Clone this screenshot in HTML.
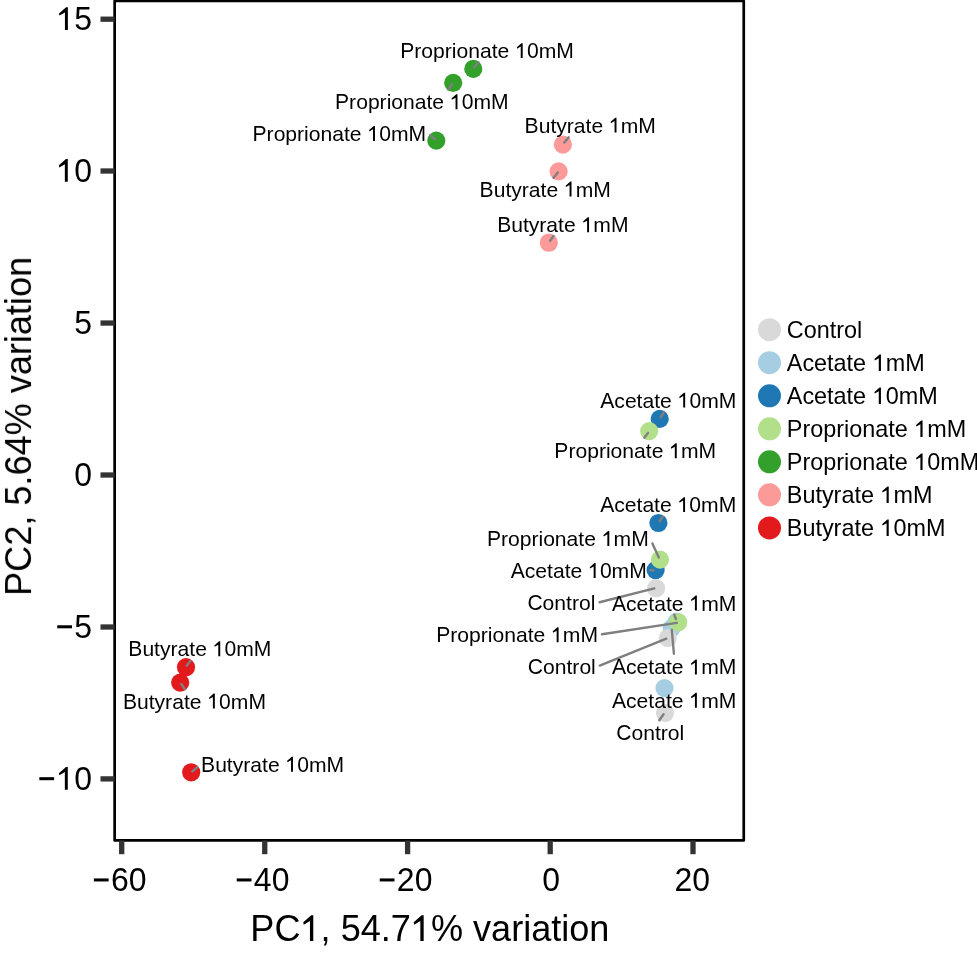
<!DOCTYPE html><html><head><meta charset="utf-8"><style>html,body{margin:0;padding:0;background:#fff;overflow:hidden;}svg{display:block;will-change:transform;}text{font-family:"Liberation Sans",sans-serif;font-kerning:none;fill:#000;}</style></head><body>
<svg width="977" height="953" viewBox="0 0 977 953">
<rect x="114.65" y="1.0" width="629.10" height="839.45" fill="#fff" stroke="#000" stroke-width="2.7" stroke-linejoin="round"/>
<circle cx="659.7" cy="418.9" r="9.1" fill="#1F78B4"/>
<circle cx="658.4" cy="523.0" r="9.1" fill="#1F78B4"/>
<circle cx="655.6" cy="570.1" r="9.1" fill="#1F78B4"/>
<circle cx="676.8" cy="621.5" r="9.1" fill="#A6CEE3"/>
<circle cx="671.7" cy="628.1" r="9.1" fill="#A6CEE3"/>
<circle cx="664.5" cy="688.1" r="9.1" fill="#A6CEE3"/>
<circle cx="186.0" cy="667.2" r="9.1" fill="#E31A1C"/>
<circle cx="180.2" cy="682.6" r="9.1" fill="#E31A1C"/>
<circle cx="191.2" cy="772.3" r="9.1" fill="#E31A1C"/>
<circle cx="562.9" cy="144.6" r="9.1" fill="#FB9A99"/>
<circle cx="558.6" cy="171.4" r="9.1" fill="#FB9A99"/>
<circle cx="548.8" cy="242.7" r="9.1" fill="#FB9A99"/>
<circle cx="656.1" cy="588.2" r="9.1" fill="#D9D9D9"/>
<circle cx="667.8" cy="638.0" r="9.1" fill="#D9D9D9"/>
<circle cx="665.0" cy="713.0" r="9.1" fill="#D9D9D9"/>
<circle cx="473.3" cy="68.9" r="9.1" fill="#33A02C"/>
<circle cx="453.2" cy="82.85" r="9.1" fill="#33A02C"/>
<circle cx="436.3" cy="140.6" r="9.1" fill="#33A02C"/>
<circle cx="649.2" cy="431.1" r="9.1" fill="#B2DF8A"/>
<circle cx="660.0" cy="559.6" r="9.1" fill="#B2DF8A"/>
<circle cx="678.2" cy="622.3" r="9.1" fill="#B2DF8A"/>
<line x1="474.32" y1="67.59" x2="478.21" y2="62.21" stroke="#7F7F7F" stroke-width="2.4" stroke-linecap="round"/>
<line x1="452.08" y1="84.26" x2="448.20" y2="89.50" stroke="#7F7F7F" stroke-width="2.4" stroke-linecap="round"/>
<line x1="435.05" y1="139.17" x2="430.27" y2="135.24" stroke="#7F7F7F" stroke-width="2.4" stroke-linecap="round"/>
<line x1="564.33" y1="142.60" x2="568.66" y2="137.37" stroke="#7F7F7F" stroke-width="2.4" stroke-linecap="round"/>
<line x1="557.87" y1="172.55" x2="553.54" y2="177.83" stroke="#7F7F7F" stroke-width="2.4" stroke-linecap="round"/>
<line x1="550.12" y1="240.74" x2="553.52" y2="236.01" stroke="#7F7F7F" stroke-width="2.4" stroke-linecap="round"/>
<line x1="660.71" y1="417.23" x2="664.05" y2="412.14" stroke="#7F7F7F" stroke-width="2.4" stroke-linecap="round"/>
<line x1="648.08" y1="432.86" x2="644.40" y2="437.80" stroke="#7F7F7F" stroke-width="2.4" stroke-linecap="round"/>
<line x1="659.71" y1="521.23" x2="662.65" y2="516.74" stroke="#7F7F7F" stroke-width="2.4" stroke-linecap="round"/>
<line x1="658.82" y1="557.42" x2="652.42" y2="543.41" stroke="#7F7F7F" stroke-width="2.4" stroke-linecap="round"/>
<line x1="653.50" y1="570.20" x2="650.60" y2="570.20" stroke="#7F7F7F" stroke-width="2.4" stroke-linecap="round"/>
<line x1="654.31" y1="588.45" x2="599.57" y2="602.26" stroke="#7F7F7F" stroke-width="2.4" stroke-linecap="round"/>
<line x1="676.80" y1="622.83" x2="601.99" y2="634.25" stroke="#7F7F7F" stroke-width="2.4" stroke-linecap="round"/>
<line x1="675.93" y1="619.01" x2="674.26" y2="614.63" stroke="#7F7F7F" stroke-width="2.4" stroke-linecap="round"/>
<line x1="671.82" y1="629.80" x2="673.91" y2="653.70" stroke="#7F7F7F" stroke-width="2.4" stroke-linecap="round"/>
<line x1="666.31" y1="638.67" x2="599.73" y2="665.53" stroke="#7F7F7F" stroke-width="2.4" stroke-linecap="round"/>
<line x1="663.58" y1="714.26" x2="659.29" y2="720.19" stroke="#7F7F7F" stroke-width="2.4" stroke-linecap="round"/>
<line x1="186.82" y1="665.54" x2="190.39" y2="660.89" stroke="#7F7F7F" stroke-width="2.4" stroke-linecap="round"/>
<line x1="181.22" y1="684.06" x2="184.91" y2="689.19" stroke="#7F7F7F" stroke-width="2.4" stroke-linecap="round"/>
<line x1="192.25" y1="771.57" x2="197.24" y2="767.25" stroke="#7F7F7F" stroke-width="2.4" stroke-linecap="round"/>
<g transform="translate(400.26 58.10)" font-size="21.1"><text transform="translate(0.00 0) scale(1 1.03)">P</text><text x="14.07">roprionate </text><path d="M0.262 0 L0.354 0 L0.354 -0.709 L0.298 -0.709 L0.077 -0.515 L0.09 -0.448 L0.262 -0.548Z" transform="translate(114.95 0) scale(21.1)"/><text transform="translate(126.68 0) scale(1 1.025)">0</text><text x="138.42">m</text><text transform="translate(155.99 0) scale(1 1.03)">M</text></g>
<g transform="translate(335.06 109.20)" font-size="21.1"><text transform="translate(0.00 0) scale(1 1.03)">P</text><text x="14.07">roprionate </text><path d="M0.262 0 L0.354 0 L0.354 -0.709 L0.298 -0.709 L0.077 -0.515 L0.09 -0.448 L0.262 -0.548Z" transform="translate(114.95 0) scale(21.1)"/><text transform="translate(126.68 0) scale(1 1.025)">0</text><text x="138.42">m</text><text transform="translate(155.99 0) scale(1 1.03)">M</text></g>
<g transform="translate(252.54 140.90)" font-size="21.1"><text transform="translate(0.00 0) scale(1 1.03)">P</text><text x="14.07">roprionate </text><path d="M0.262 0 L0.354 0 L0.354 -0.709 L0.298 -0.709 L0.077 -0.515 L0.09 -0.448 L0.262 -0.548Z" transform="translate(114.95 0) scale(21.1)"/><text transform="translate(126.68 0) scale(1 1.025)">0</text><text x="138.42">m</text><text transform="translate(155.99 0) scale(1 1.03)">M</text></g>
<g transform="translate(524.59 132.60)" font-size="21.1"><text transform="translate(0.00 0) scale(1 1.03)">B</text><text x="14.07">utyrate </text><path d="M0.262 0 L0.354 0 L0.354 -0.709 L0.298 -0.709 L0.077 -0.515 L0.09 -0.448 L0.262 -0.548Z" transform="translate(84.44 0) scale(21.1)"/><text x="96.18">m</text><text transform="translate(113.75 0) scale(1 1.03)">M</text></g>
<g transform="translate(479.59 196.50)" font-size="21.1"><text transform="translate(0.00 0) scale(1 1.03)">B</text><text x="14.07">utyrate </text><path d="M0.262 0 L0.354 0 L0.354 -0.709 L0.298 -0.709 L0.077 -0.515 L0.09 -0.448 L0.262 -0.548Z" transform="translate(84.44 0) scale(21.1)"/><text x="96.18">m</text><text transform="translate(113.75 0) scale(1 1.03)">M</text></g>
<g transform="translate(497.14 232.20)" font-size="21.1"><text transform="translate(0.00 0) scale(1 1.03)">B</text><text x="14.07">utyrate </text><path d="M0.262 0 L0.354 0 L0.354 -0.709 L0.298 -0.709 L0.077 -0.515 L0.09 -0.448 L0.262 -0.548Z" transform="translate(84.44 0) scale(21.1)"/><text x="96.18">m</text><text transform="translate(113.75 0) scale(1 1.03)">M</text></g>
<g transform="translate(600.28 407.60)" font-size="21.1"><text transform="translate(0.00 0) scale(1 1.03)">A</text><text x="14.07">cetate </text><path d="M0.262 0 L0.354 0 L0.354 -0.709 L0.298 -0.709 L0.077 -0.515 L0.09 -0.448 L0.262 -0.548Z" transform="translate(77.41 0) scale(21.1)"/><text transform="translate(89.15 0) scale(1 1.025)">0</text><text x="100.88">m</text><text transform="translate(118.46 0) scale(1 1.03)">M</text></g>
<g transform="translate(554.33 458.20)" font-size="21.1"><text transform="translate(0.00 0) scale(1 1.03)">P</text><text x="14.07">roprionate </text><path d="M0.262 0 L0.354 0 L0.354 -0.709 L0.298 -0.709 L0.077 -0.515 L0.09 -0.448 L0.262 -0.548Z" transform="translate(114.95 0) scale(21.1)"/><text x="126.68">m</text><text transform="translate(144.26 0) scale(1 1.03)">M</text></g>
<g transform="translate(600.18 512.10)" font-size="21.1"><text transform="translate(0.00 0) scale(1 1.03)">A</text><text x="14.07">cetate </text><path d="M0.262 0 L0.354 0 L0.354 -0.709 L0.298 -0.709 L0.077 -0.515 L0.09 -0.448 L0.262 -0.548Z" transform="translate(77.41 0) scale(21.1)"/><text transform="translate(89.15 0) scale(1 1.025)">0</text><text x="100.88">m</text><text transform="translate(118.46 0) scale(1 1.03)">M</text></g>
<g transform="translate(486.88 545.90)" font-size="21.1"><text transform="translate(0.00 0) scale(1 1.03)">P</text><text x="14.07">roprionate </text><path d="M0.262 0 L0.354 0 L0.354 -0.709 L0.298 -0.709 L0.077 -0.515 L0.09 -0.448 L0.262 -0.548Z" transform="translate(114.95 0) scale(21.1)"/><text x="126.68">m</text><text transform="translate(144.26 0) scale(1 1.03)">M</text></g>
<g transform="translate(510.73 578.00)" font-size="21.1"><text transform="translate(0.00 0) scale(1 1.03)">A</text><text x="14.07">cetate </text><path d="M0.262 0 L0.354 0 L0.354 -0.709 L0.298 -0.709 L0.077 -0.515 L0.09 -0.448 L0.262 -0.548Z" transform="translate(77.41 0) scale(21.1)"/><text transform="translate(89.15 0) scale(1 1.025)">0</text><text x="100.88">m</text><text transform="translate(118.46 0) scale(1 1.03)">M</text></g>
<g transform="translate(527.39 610.30)" font-size="21.1"><text transform="translate(0.00 0) scale(1 1.03)">C</text><text x="15.24">ontrol</text></g>
<g transform="translate(436.18 642.20)" font-size="21.1"><text transform="translate(0.00 0) scale(1 1.03)">P</text><text x="14.07">roprionate </text><path d="M0.262 0 L0.354 0 L0.354 -0.709 L0.298 -0.709 L0.077 -0.515 L0.09 -0.448 L0.262 -0.548Z" transform="translate(114.95 0) scale(21.1)"/><text x="126.68">m</text><text transform="translate(144.26 0) scale(1 1.03)">M</text></g>
<g transform="translate(611.99 610.50)" font-size="21.1"><text transform="translate(0.00 0) scale(1 1.03)">A</text><text x="14.07">cetate </text><path d="M0.262 0 L0.354 0 L0.354 -0.709 L0.298 -0.709 L0.077 -0.515 L0.09 -0.448 L0.262 -0.548Z" transform="translate(77.41 0) scale(21.1)"/><text x="89.15">m</text><text transform="translate(106.73 0) scale(1 1.03)">M</text></g>
<g transform="translate(611.99 674.40)" font-size="21.1"><text transform="translate(0.00 0) scale(1 1.03)">A</text><text x="14.07">cetate </text><path d="M0.262 0 L0.354 0 L0.354 -0.709 L0.298 -0.709 L0.077 -0.515 L0.09 -0.448 L0.262 -0.548Z" transform="translate(77.41 0) scale(21.1)"/><text x="89.15">m</text><text transform="translate(106.73 0) scale(1 1.03)">M</text></g>
<g transform="translate(527.81 673.90)" font-size="21.1"><text transform="translate(0.00 0) scale(1 1.03)">C</text><text x="15.24">ontrol</text></g>
<g transform="translate(611.99 707.70)" font-size="21.1"><text transform="translate(0.00 0) scale(1 1.03)">A</text><text x="14.07">cetate </text><path d="M0.262 0 L0.354 0 L0.354 -0.709 L0.298 -0.709 L0.077 -0.515 L0.09 -0.448 L0.262 -0.548Z" transform="translate(77.41 0) scale(21.1)"/><text x="89.15">m</text><text transform="translate(106.73 0) scale(1 1.03)">M</text></g>
<g transform="translate(616.21 739.50)" font-size="21.1"><text transform="translate(0.00 0) scale(1 1.03)">C</text><text x="15.24">ontrol</text></g>
<g transform="translate(128.32 656.25)" font-size="21.1"><text transform="translate(0.00 0) scale(1 1.03)">B</text><text x="14.07">utyrate </text><path d="M0.262 0 L0.354 0 L0.354 -0.709 L0.298 -0.709 L0.077 -0.515 L0.09 -0.448 L0.262 -0.548Z" transform="translate(84.44 0) scale(21.1)"/><text transform="translate(96.18 0) scale(1 1.025)">0</text><text x="107.91">m</text><text transform="translate(125.49 0) scale(1 1.03)">M</text></g>
<g transform="translate(122.92 708.50)" font-size="21.1"><text transform="translate(0.00 0) scale(1 1.03)">B</text><text x="14.07">utyrate </text><path d="M0.262 0 L0.354 0 L0.354 -0.709 L0.298 -0.709 L0.077 -0.515 L0.09 -0.448 L0.262 -0.548Z" transform="translate(84.44 0) scale(21.1)"/><text transform="translate(96.18 0) scale(1 1.025)">0</text><text x="107.91">m</text><text transform="translate(125.49 0) scale(1 1.03)">M</text></g>
<g transform="translate(201.07 771.70)" font-size="21.1"><text transform="translate(0.00 0) scale(1 1.03)">B</text><text x="14.07">utyrate </text><path d="M0.262 0 L0.354 0 L0.354 -0.709 L0.298 -0.709 L0.077 -0.515 L0.09 -0.448 L0.262 -0.548Z" transform="translate(84.44 0) scale(21.1)"/><text transform="translate(96.18 0) scale(1 1.025)">0</text><text x="107.91">m</text><text transform="translate(125.49 0) scale(1 1.03)">M</text></g>
<line x1="100.5" y1="19.2" x2="114.65" y2="19.2" stroke="#333333" stroke-width="5.3"/>
<line x1="100.5" y1="171.0" x2="114.65" y2="171.0" stroke="#333333" stroke-width="5.3"/>
<line x1="100.5" y1="323.05" x2="114.65" y2="323.05" stroke="#333333" stroke-width="5.3"/>
<line x1="100.5" y1="475.0" x2="114.65" y2="475.0" stroke="#333333" stroke-width="5.3"/>
<line x1="100.5" y1="627.0" x2="114.65" y2="627.0" stroke="#333333" stroke-width="5.3"/>
<line x1="100.5" y1="778.9" x2="114.65" y2="778.9" stroke="#333333" stroke-width="5.3"/>
<line x1="121.7" y1="840.45" x2="121.7" y2="854.2" stroke="#333333" stroke-width="5.3"/>
<line x1="264.75" y1="840.45" x2="264.75" y2="854.2" stroke="#333333" stroke-width="5.3"/>
<line x1="407.6" y1="840.45" x2="407.6" y2="854.2" stroke="#333333" stroke-width="5.3"/>
<line x1="550.2" y1="840.45" x2="550.2" y2="854.2" stroke="#333333" stroke-width="5.3"/>
<line x1="693.0" y1="840.45" x2="693.0" y2="854.2" stroke="#333333" stroke-width="5.3"/>
<g transform="translate(56.55 29.95)" font-size="32"><path d="M0.262 0 L0.354 0 L0.354 -0.709 L0.298 -0.709 L0.077 -0.515 L0.09 -0.448 L0.262 -0.548Z" transform="translate(0.00 0) scale(32)"/><text transform="translate(17.80 0) scale(1 1.01)">5</text></g>
<g transform="translate(56.46 181.75)" font-size="32"><path d="M0.262 0 L0.354 0 L0.354 -0.709 L0.298 -0.709 L0.077 -0.515 L0.09 -0.448 L0.262 -0.548Z" transform="translate(0.00 0) scale(32)"/><text transform="translate(17.80 0) scale(1 1.025)">0</text></g>
<g transform="translate(74.35 333.80)" font-size="32"><text transform="translate(0.00 0) scale(1 1.01)">5</text></g>
<g transform="translate(74.25 485.75)" font-size="32"><text transform="translate(0.00 0) scale(1 1.025)">0</text></g>
<g transform="translate(55.66 637.75)" font-size="32"><path d="M0.049 -0.295 L0.51 -0.295 L0.51 -0.39 L0.049 -0.39Z" transform="translate(0.00 0) scale(32)"/><text transform="translate(18.69 0) scale(1 1.01)">5</text></g>
<g transform="translate(37.77 789.65)" font-size="32"><path d="M0.049 -0.295 L0.51 -0.295 L0.51 -0.39 L0.049 -0.39Z" transform="translate(0.00 0) scale(32)"/><path d="M0.262 0 L0.354 0 L0.354 -0.709 L0.298 -0.709 L0.077 -0.515 L0.09 -0.448 L0.262 -0.548Z" transform="translate(18.69 0) scale(32)"/><text transform="translate(36.48 0) scale(1 1.025)">0</text></g>
<g transform="translate(92.30 890.90)" font-size="32"><path d="M0.049 -0.295 L0.51 -0.295 L0.51 -0.39 L0.049 -0.39Z" transform="translate(0.00 0) scale(32)"/><text transform="translate(18.69 0) scale(1 1.025)">60</text></g>
<g transform="translate(235.15 890.90)" font-size="32"><path d="M0.049 -0.295 L0.51 -0.295 L0.51 -0.39 L0.049 -0.39Z" transform="translate(0.00 0) scale(32)"/><text transform="translate(18.69 0) scale(1 1.025)">40</text></g>
<g transform="translate(378.15 890.90)" font-size="32"><path d="M0.049 -0.295 L0.51 -0.295 L0.51 -0.39 L0.049 -0.39Z" transform="translate(0.00 0) scale(32)"/><text transform="translate(18.69 0) scale(1 1.025)">20</text></g>
<g transform="translate(542.30 890.90)" font-size="32"><text transform="translate(0.00 0) scale(1 1.025)">0</text></g>
<g transform="translate(674.45 890.90)" font-size="32"><text transform="translate(0.00 0) scale(1 1.025)">20</text></g>
<g transform="translate(250.34 940.90)" font-size="36.1"><text transform="translate(0.00 0) scale(1 1.03)">PC</text><path d="M0.262 0 L0.354 0 L0.354 -0.709 L0.298 -0.709 L0.077 -0.515 L0.09 -0.448 L0.262 -0.548Z" transform="translate(50.15 0) scale(36.1)"/><text x="70.23">, </text><text transform="translate(90.29 0) scale(1 1.01)">5</text><text transform="translate(110.36 0) scale(1 1.025)">4</text><text x="130.44">.</text><text transform="translate(140.47 0) scale(1 1.025)">7</text><path d="M0.262 0 L0.354 0 L0.354 -0.709 L0.298 -0.709 L0.077 -0.515 L0.09 -0.448 L0.262 -0.548Z" transform="translate(160.55 0) scale(36.1)"/><text x="180.62">% variation</text></g>
<g transform="translate(31.06 595.86) rotate(-90) translate(0.00 0.00)" font-size="36.1"><text transform="translate(0.00 0) scale(1 1.03)">PC</text><text transform="translate(50.15 0) scale(1 1.025)">2</text><text x="70.23">, </text><text transform="translate(90.29 0) scale(1 1.01)">5</text><text x="110.36">.</text><text transform="translate(120.39 0) scale(1 1.025)">64</text><text x="160.55">% variation</text></g>
<circle cx="769.5" cy="329.70" r="11.5" fill="#D9D9D9"/>
<g transform="translate(786.80 338.00)" font-size="23.4"><text transform="translate(0.00 0) scale(1 1.03)">C</text><text x="16.90">ontrol</text></g>
<circle cx="769.5" cy="362.73" r="11.5" fill="#A6CEE3"/>
<g transform="translate(786.80 371.00)" font-size="23.4"><text transform="translate(0.00 0) scale(1 1.03)">A</text><text x="15.61">cetate </text><path d="M0.262 0 L0.354 0 L0.354 -0.709 L0.298 -0.709 L0.077 -0.515 L0.09 -0.448 L0.262 -0.548Z" transform="translate(85.85 0) scale(23.4)"/><text x="98.87">m</text><text transform="translate(118.36 0) scale(1 1.03)">M</text></g>
<circle cx="769.5" cy="395.76" r="11.5" fill="#1F78B4"/>
<g transform="translate(786.80 404.00)" font-size="23.4"><text transform="translate(0.00 0) scale(1 1.03)">A</text><text x="15.61">cetate </text><path d="M0.262 0 L0.354 0 L0.354 -0.709 L0.298 -0.709 L0.077 -0.515 L0.09 -0.448 L0.262 -0.548Z" transform="translate(85.85 0) scale(23.4)"/><text transform="translate(98.87 0) scale(1 1.025)">0</text><text x="111.88">m</text><text transform="translate(131.37 0) scale(1 1.03)">M</text></g>
<circle cx="769.5" cy="428.79" r="11.5" fill="#B2DF8A"/>
<g transform="translate(786.80 437.00)" font-size="23.4"><text transform="translate(0.00 0) scale(1 1.03)">P</text><text x="15.61">roprionate </text><path d="M0.262 0 L0.354 0 L0.354 -0.709 L0.298 -0.709 L0.077 -0.515 L0.09 -0.448 L0.262 -0.548Z" transform="translate(127.48 0) scale(23.4)"/><text x="140.49">m</text><text transform="translate(159.98 0) scale(1 1.03)">M</text></g>
<circle cx="769.5" cy="461.82" r="11.5" fill="#33A02C"/>
<g transform="translate(786.80 470.00)" font-size="23.4"><text transform="translate(0.00 0) scale(1 1.03)">P</text><text x="15.61">roprionate </text><path d="M0.262 0 L0.354 0 L0.354 -0.709 L0.298 -0.709 L0.077 -0.515 L0.09 -0.448 L0.262 -0.548Z" transform="translate(127.48 0) scale(23.4)"/><text transform="translate(140.49 0) scale(1 1.025)">0</text><text x="153.51">m</text><text transform="translate(173.00 0) scale(1 1.03)">M</text></g>
<circle cx="769.5" cy="494.85" r="11.5" fill="#FB9A99"/>
<g transform="translate(786.80 503.00)" font-size="23.4"><text transform="translate(0.00 0) scale(1 1.03)">B</text><text x="15.61">utyrate </text><path d="M0.262 0 L0.354 0 L0.354 -0.709 L0.298 -0.709 L0.077 -0.515 L0.09 -0.448 L0.262 -0.548Z" transform="translate(93.65 0) scale(23.4)"/><text x="106.66">m</text><text transform="translate(126.15 0) scale(1 1.03)">M</text></g>
<circle cx="769.5" cy="527.88" r="11.5" fill="#E31A1C"/>
<g transform="translate(786.80 536.00)" font-size="23.4"><text transform="translate(0.00 0) scale(1 1.03)">B</text><text x="15.61">utyrate </text><path d="M0.262 0 L0.354 0 L0.354 -0.709 L0.298 -0.709 L0.077 -0.515 L0.09 -0.448 L0.262 -0.548Z" transform="translate(93.65 0) scale(23.4)"/><text transform="translate(106.66 0) scale(1 1.025)">0</text><text x="119.67">m</text><text transform="translate(139.17 0) scale(1 1.03)">M</text></g>
</svg></body></html>
